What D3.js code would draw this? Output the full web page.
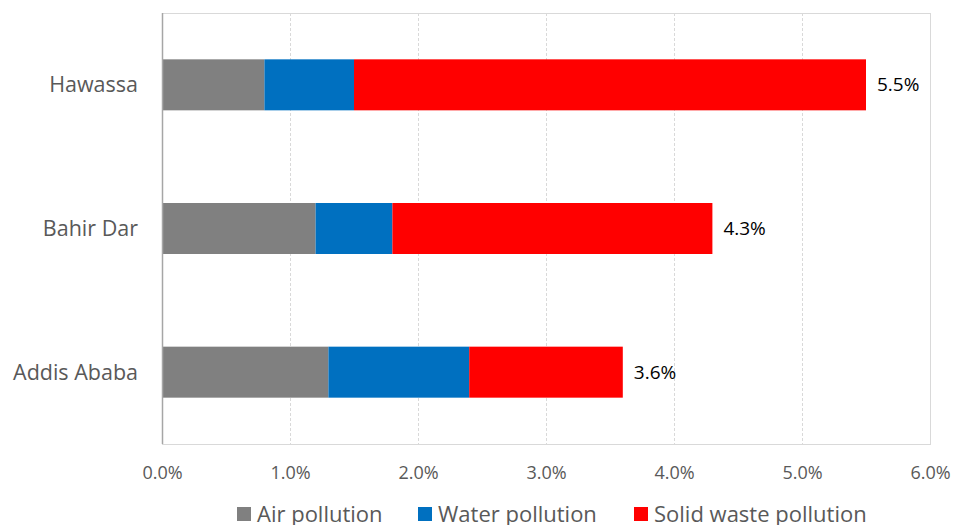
<!DOCTYPE html>
<html>
<head>
<meta charset="utf-8">
<script src="https://cdn.jsdelivr.net/npm/d3@7"></script>
<style>
  html, body { margin: 0; padding: 0; background: #fff; }
  svg { display: block; font-family: "Open Sans", sans-serif; }
</style>
</head>
<body>
<svg id="chart" width="956" height="525"></svg>
<script>
// Share of respondents citing each pollution type, by city (percent)
const cities = ["Hawassa", "Bahir Dar", "Addis Ababa"];
const seriesNames = ["Air pollution", "Water pollution", "Solid waste pollution"];
const airPollution = [0.8, 1.2, 1.3];
const waterPollution = [0.7, 0.6, 1.1];
const solidWastePollution = [4.0, 2.5, 1.2];
const totalLabels = ["5.5%", "4.3%", "3.6%"];
const tickValues = [0, 1, 2, 3, 4, 5, 6];
const colors = ["#808080", "#0070C0", "#FF0000"];

const rows = cities.map((c, i) => ({
  city: c,
  "Air pollution": airPollution[i],
  "Water pollution": waterPollution[i],
  "Solid waste pollution": solidWastePollution[i],
  total: totalLabels[i]
}));

const svg = d3.select("#chart");
const margin = { left: 162, right: 26, top: 13, bottom: 81 };
const W = 956, H = 525;
const iw = W - margin.left - margin.right;
const ih = H - margin.top - margin.bottom;

const x = d3.scaleLinear().domain([0, 6]).range([margin.left, margin.left + iw]);
const y = d3.scaleBand().domain(cities).range([margin.top, margin.top + ih])
  .paddingInner(0.645).paddingOuter(0.3225);

// Plot frame
svg.append("rect")
  .attr("x", margin.left + 0.5).attr("y", margin.top + 0.5)
  .attr("width", iw).attr("height", ih)
  .attr("fill", "none").attr("stroke", "#d9d9d9").attr("stroke-width", 1);

// Vertical gridlines
svg.append("g").selectAll("line")
  .data(tickValues.slice(1, -1))
  .join("line")
  .attr("x1", d => Math.round(x(d)) + 0.5).attr("x2", d => Math.round(x(d)) + 0.5)
  .attr("y1", margin.top).attr("y2", margin.top + ih)
  .attr("stroke", "#d9d9d9").attr("stroke-dasharray", "3,2");

// Stacked bars
const stack = d3.stack().keys(seriesNames);
const layers = stack(rows);
const color = d3.scaleOrdinal().domain(seriesNames).range(colors);

svg.append("g").selectAll("g")
  .data(layers)
  .join("g")
  .attr("fill", d => color(d.key))
  .selectAll("rect")
  .data(d => d)
  .join("rect")
  .attr("x", d => x(d[0]))
  .attr("y", d => y(d.data.city))
  .attr("width", d => x(d[1]) - x(d[0]))
  .attr("height", y.bandwidth());

// Left axis line
svg.append("line")
  .attr("x1", margin.left + 0.5).attr("x2", margin.left + 0.5)
  .attr("y1", margin.top).attr("y2", margin.top + ih)
  .attr("stroke", "#a6a6a6").attr("stroke-width", 1.5);

// Total labels
const lastLayer = layers[layers.length - 1];
svg.append("g").selectAll("text")
  .data(lastLayer)
  .join("text")
  .attr("x", d => x(d[1]) + 11)
  .attr("y", d => y(d.data.city) + y.bandwidth() / 2)
  .attr("dy", "0.35em")
  .attr("font-size", 19)
  .attr("fill", "#000")
  .text(d => d.data.total);

// Category labels
svg.append("g").selectAll("text")
  .data(cities)
  .join("text")
  .attr("x", 138)
  .attr("y", d => y(d) + y.bandwidth() / 2)
  .attr("dy", "0.35em")
  .attr("text-anchor", "end")
  .attr("font-size", 21.5)
  .attr("fill", "#595959")
  .text(d => d);

// X axis tick labels
const xAxis = d3.axisBottom(x).tickValues(tickValues)
  .tickFormat(d => d3.format(".1f")(d) + "%").tickSize(0).tickPadding(0);
const gx = svg.append("g")
  .attr("transform", `translate(0, ${margin.top + ih})`)
  .call(xAxis);
gx.select(".domain").remove();
gx.selectAll("text")
  .attr("y", 29)
  .attr("dy", "0.35em")
  .attr("font-family", "'Open Sans', sans-serif")
  .attr("font-size", 18)
  .attr("fill", "#595959");

// Legend
const legendX = [237, 418, 634];
const legend = svg.append("g").selectAll("g")
  .data(seriesNames)
  .join("g")
  .attr("transform", (d, i) => `translate(${legendX[i]}, 507)`);
legend.append("rect")
  .attr("width", 14).attr("height", 14)
  .attr("fill", d => color(d));
legend.append("text")
  .attr("x", 20).attr("y", 7).attr("dy", "0.35em")
  .attr("font-size", 22)
  .attr("fill", "#595959")
  .text(d => d);
</script>
</body>
</html>
